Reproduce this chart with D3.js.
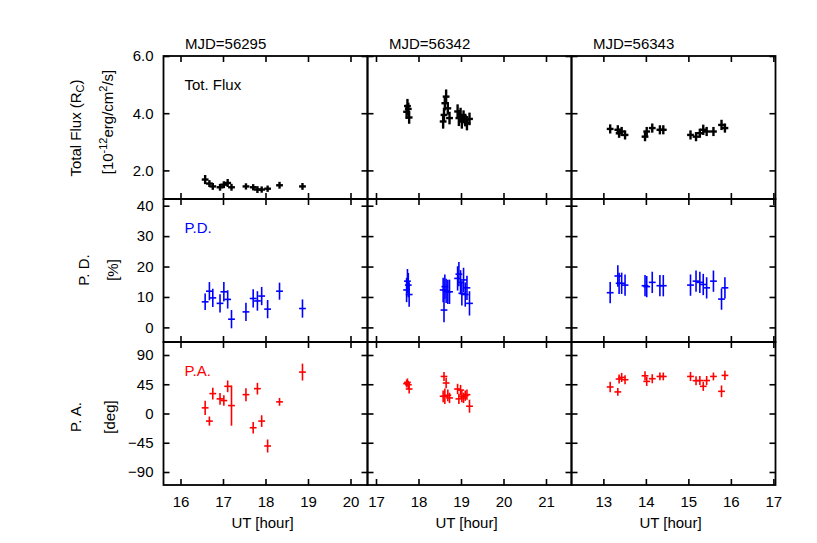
<!DOCTYPE html>
<html><head><meta charset="utf-8">
<script src="https://cdn.jsdelivr.net/npm/d3@7"></script>
<style>
body{margin:0;background:#fff;}
text{font-family:"Liberation Sans",Arial,sans-serif;}
</style></head>
<body><svg id="c" width="817" height="543"></svg>
<script>
// ---------- DATA ----------
const mjdLabels = ["MJD=56295", "MJD=56342", "MJD=56343"];
const xDomains = [[15.6, 20.4], [16.8, 21.6], [12.25, 17.05]];
const xTicks = [[16, 17, 18, 19, 20], [17, 18, 19, 20, 21], [13, 14, 15, 16, 17]];
const fluxTicks = [2, 4, 6];
const pdTicks = [0, 10, 20, 30, 40];
const paTicks = [-90, -45, 0, 45, 90];
const hourErr = 0.08;

// MJD 56295
const hours1 = [16.58, 16.68, 16.76, 16.93, 17.02, 17.11, 17.20, 17.54, 17.71, 17.81, 17.91, 18.05, 18.33, 18.87];
const flux1 = [1.68, 1.54, 1.44, 1.41, 1.50, 1.56, 1.41, 1.44, 1.41, 1.33, 1.33, 1.36, 1.48, 1.44];
const fluxErr1 = [0.16, 0.12, 0.12, 0.12, 0.12, 0.14, 0.12, 0.11, 0.11, 0.12, 0.11, 0.11, 0.12, 0.12];
const pd1 = [8.4, 11.9, 9.7, 7.9, 11.7, 9.2, 2.7, 5.1, 9.5, 8.7, 10.3, 6.0, 11.9, 6.2];
const pdErr1 = [2.7, 3.0, 3.0, 3.0, 3.2, 3.0, 3.0, 3.0, 3.0, 3.2, 3.0, 3.0, 2.8, 3.0];
const pa1 = [8.7, -11.7, 30.6, 22.5, 19.9, 41.8, 12.2, 29.0, -21.9, 38.2, -11.7, -50.0, 17.9, 63.7];
const paErr1 = [11, 7, 9, 9, 8, 9, 31, 10, 9, 9, 9, 10, 6, 13];

// MJD 56342
const hours2 = [17.72, 17.74, 17.76, 17.78, 18.58, 18.60, 18.62, 18.65, 18.69, 18.73, 18.92, 18.95, 18.99, 19.02, 19.06, 19.10, 19.14, 19.20];
const flux2 = [4.05, 4.25, 4.15, 3.85, 3.71, 3.94, 4.35, 4.58, 4.17, 3.83, 4.06, 3.83, 3.94, 3.71, 3.88, 3.76, 3.65, 3.80];
const fluxErr2 = [0.25, 0.25, 0.22, 0.22, 0.25, 0.25, 0.25, 0.25, 0.22, 0.22, 0.25, 0.28, 0.25, 0.25, 0.22, 0.22, 0.25, 0.22];
const pd2 = [12.3, 15.2, 13.9, 10.8, 12.3, 5.7, 13.4, 12.0, 11.7, 11.7, 16.1, 17.5, 14.8, 11.2, 15.6, 10.8, 13.0, 7.9];
const pdErr2 = [4, 4, 4, 4, 4, 4, 4, 4, 4, 4, 4, 4, 4, 4, 4, 4, 4, 4];
const pa2 = [46.0, 47.9, 44.3, 37.7, 26.5, 57.0, 26.5, 46.9, 28.0, 24.0, 37.7, 22.5, 36.0, 26.5, 24.0, 27.5, 29.0, 11.2];
const paErr2 = [6, 6, 6, 7, 9, 7, 12, 8, 9, 8, 8, 8, 8, 9, 8, 8, 8, 10];

// MJD 56343
const hours3 = [13.16, 13.34, 13.37, 13.43, 13.51, 13.98, 14.02, 14.15, 14.33, 14.41, 15.05, 15.18, 15.27, 15.35, 15.43, 15.59, 15.78, 15.86];
const flux3 = [3.45, 3.42, 3.30, 3.36, 3.24, 3.18, 3.36, 3.48, 3.42, 3.42, 3.24, 3.18, 3.30, 3.42, 3.36, 3.36, 3.59, 3.48];
const fluxErr3 = [0.16, 0.16, 0.16, 0.16, 0.16, 0.16, 0.16, 0.16, 0.16, 0.16, 0.16, 0.16, 0.16, 0.18, 0.16, 0.16, 0.18, 0.16];
const pd3 = [11.4, 16.9, 14.5, 14.5, 13.9, 13.7, 13.4, 14.8, 13.7, 13.7, 13.9, 15.2, 14.8, 14.1, 13.0, 15.2, 9.3, 13.0];
const pdErr3 = [3.5, 3.5, 3.5, 3.5, 3.5, 3.5, 3.5, 3.5, 3.5, 3.5, 3.5, 3.5, 3.5, 3.5, 3.5, 3.5, 3.5, 3.5];
const pa3 = [40.8, 33.2, 53.0, 55.5, 52.0, 58.0, 49.4, 53.5, 57.0, 57.0, 57.0, 50.5, 50.7, 41.8, 50.7, 57.0, 34.1, 58.6];
const paErr3 = [8, 6, 7, 7, 7, 7, 7, 7, 6, 6, 7, 7, 7, 7, 7, 6, 9, 7];

// ---------- LAYOUT ----------
const svg = d3.select("#c");
const colX = [163.5, 367.5, 571.5], panelW = 204;
const rowY = [56, 199, 342], panelH = 143;
const tickLen = 6;

const rowsDef = [
  {domain: [1.0, 6.0], ticks: fluxTicks, fmt: d3.format(".1f"), color: "#000", sw: 2.4,
   data: [[hours1, flux1, fluxErr1], [hours2, flux2, fluxErr2], [hours3, flux3, fluxErr3]], label: "Tot. Flux"},
  {domain: [-4.8, 42.2], ticks: pdTicks, fmt: d3.format("d"), color: "#0000ff", sw: 1.6,
   data: [[hours1, pd1, pdErr1], [hours2, pd2, pdErr2], [hours3, pd3, pdErr3]], label: "P.D."},
  {domain: [-110, 110], ticks: paTicks, fmt: d3.format("d"), color: "#ff0000", sw: 1.6,
   data: [[hours1, pa1, paErr1], [hours2, pa2, paErr2], [hours3, pa3, paErr3]], label: "P.A."}
];

rowsDef.forEach((row, r) => {
  const y = d3.scaleLinear().domain(row.domain).range([rowY[r] + panelH, rowY[r]]);
  for (let c = 0; c < 3; c++) {
    const x = d3.scaleLinear().domain(xDomains[c]).range([colX[c], colX[c] + panelW]);
    const g = svg.append("g");
    const axB = d3.axisBottom(x).tickValues(xTicks[c]).tickSizeInner(-tickLen).tickSizeOuter(0).tickPadding(11)
      .tickFormat(r === 2 ? d3.format("d") : () => "");
    const gB = g.append("g").attr("transform", `translate(0,${rowY[r] + panelH})`).call(axB);
    const axT = d3.axisTop(x).tickValues(xTicks[c]).tickSizeInner(-tickLen).tickSizeOuter(0).tickFormat(() => "");
    const gT = g.append("g").attr("transform", `translate(0,${rowY[r]})`).call(axT);
    const axL = d3.axisLeft(y).tickValues(row.ticks).tickSizeInner(-tickLen).tickSizeOuter(0).tickPadding(10)
      .tickFormat(c === 0 ? row.fmt : () => "");
    const gL = g.append("g").attr("transform", `translate(${colX[c]},0)`).call(axL);
    const axR = d3.axisRight(y).tickValues(row.ticks).tickSizeInner(-tickLen).tickSizeOuter(0).tickFormat(() => "");
    const gR = g.append("g").attr("transform", `translate(${colX[c] + panelW},0)`).call(axR);
    [gB, gT, gL, gR].forEach(a => {
      a.select(".domain").remove();
      a.selectAll("line").attr("stroke", "#000").attr("stroke-width", 1.6);
      a.selectAll("text").attr("font-size", 15).attr("fill", "#000")
        .style("font-family", "'Liberation Sans', Arial, sans-serif");
    });
    g.append("rect").attr("x", colX[c]).attr("y", rowY[r]).attr("width", panelW).attr("height", panelH)
      .attr("fill", "none").attr("stroke", "#000").attr("stroke-width", 1.8);

    const [hs, vs, es] = row.data[c];
    const pts = hs.map((h, i) => ({h, v: vs[i], e: es[i]}));
    const pg = g.append("g").attr("stroke", row.color).attr("stroke-width", row.sw);
    pg.selectAll("line.v").data(pts).join("line").attr("class", "v")
      .attr("x1", d => x(d.h)).attr("x2", d => x(d.h))
      .attr("y1", d => y(d.v - d.e)).attr("y2", d => y(d.v + d.e));
    pg.selectAll("line.h").data(pts).join("line").attr("class", "h")
      .attr("x1", d => x(d.h - hourErr)).attr("x2", d => x(d.h + hourErr))
      .attr("y1", d => y(d.v)).attr("y2", d => y(d.v));

    if (c === 0) {
      g.append("text").attr("x", colX[0] + 21).attr("y", rowY[r] + 34)
        .attr("font-size", 15).attr("fill", row.color).text(row.label);
    }
  }
});

mjdLabels.forEach((t, c) => {
  svg.append("text").attr("x", colX[c] + 21.5).attr("y", 49).attr("font-size", 15).text(t);
  svg.append("text").attr("x", colX[c] + panelW / 2 - 3).attr("y", 528).attr("font-size", 15)
    .attr("text-anchor", "middle").text("UT [hour]");
});

function rotLabel(x, y, build) {
  const t = svg.append("text").attr("transform", `translate(${x},${y}) rotate(-90)`)
    .attr("text-anchor", "middle").attr("font-size", 15);
  build(t);
}
rotLabel(81, 128, t => {
  t.append("tspan").text("Total Flux (R");
  t.append("tspan").attr("font-size", 11).attr("dy", 3).text("C");
  t.append("tspan").attr("dy", -3).text(")");
});
rotLabel(113, 122, t => {
  t.append("tspan").text("[10");
  t.append("tspan").attr("font-size", 11).attr("dy", -6).text("-12");
  t.append("tspan").attr("dy", 6).text("erg/cm");
  t.append("tspan").attr("font-size", 11).attr("dy", -6).text("2");
  t.append("tspan").attr("dy", 6).text("/s]");
});
rotLabel(89, 270, t => t.text("P. D."));
rotLabel(118, 270, t => t.text("[%]"));
rotLabel(81, 417, t => t.text("P. A."));
rotLabel(115, 417, t => t.text("[deg]"));
</script></body></html>
